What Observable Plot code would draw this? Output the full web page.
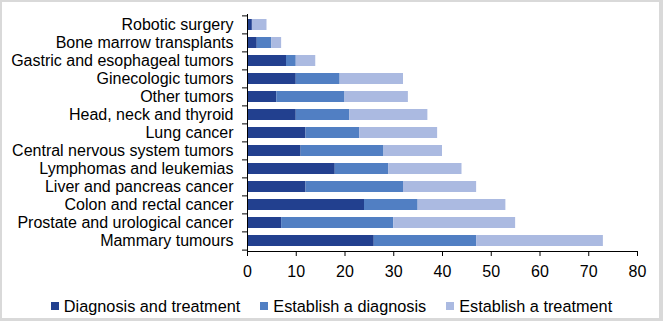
<!DOCTYPE html>
<html><head><meta charset="utf-8">
<script src="https://cdn.jsdelivr.net/npm/d3@7"></script>
<script src="https://cdn.jsdelivr.net/npm/@observablehq/plot@0.6"></script>
<style>
html,body{margin:0;padding:0;background:#fff;}
#frame{position:relative;width:663px;height:321px;background:#d9d9d9;overflow:hidden;font-family:"Liberation Sans",Arial,sans-serif;}
#inner{position:absolute;left:2px;top:2px;width:657px;height:316px;background:#fff;}
#chart{position:absolute;left:0;top:0;}
#legend{position:absolute;left:0;top:297px;width:663px;display:flex;justify-content:center;align-items:center;font-size:16.3px;line-height:18px;color:#000;}
.item{display:flex;align-items:center;margin:0 10px;white-space:nowrap;}
.sw{width:8px;height:8px;margin-right:5px;flex:none;}
</style></head><body>
<div id="frame"><div id="inner"></div><div id="chart"></div><div id="legend"></div></div>
<script>
const categories = [
  "Robotic surgery",
  "Bone marrow transplants",
  "Gastric and esophageal tumors",
  "Ginecologic tumors",
  "Other tumors",
  "Head, neck and thyroid",
  "Lung cancer",
  "Central nervous system tumors",
  "Lymphomas and leukemias",
  "Liver and pancreas cancer",
  "Colon and rectal cancer",
  "Prostate and urological cancer",
  "Mammary tumours"
];
const seriesNames = ["Diagnosis and treatment", "Establish a diagnosis", "Establish a treatment"];
const diagnosisAndTreatment = [1, 2, 8, 10, 6, 10, 12, 11, 18, 12, 24, 7, 26];
const establishDiagnosis    = [0, 3, 2, 9, 14, 11, 11, 17, 11, 20, 11, 23, 21];
const establishTreatment    = [3, 2, 4, 13, 13, 16, 16, 12, 15, 15, 18, 25, 26];
const xTicks = [0, 10, 20, 30, 40, 50, 60, 70, 80];
const colors = ["#22408F", "#517FC3", "#ABBAE1"];

const seriesValues = [diagnosisAndTreatment, establishDiagnosis, establishTreatment];
const data = [];
categories.forEach((c, i) => {
  seriesNames.forEach((s, j) => data.push({category: c, series: s, value: seriesValues[j][i]}));
});

const W = 663, H = 285, mT = 14, mB = 34, mL = 247, mR = 26;
const step = (H - mT - mB) / categories.length;

const chart = Plot.plot({
  width: W, height: H,
  marginTop: mT, marginBottom: mB, marginLeft: mL, marginRight: mR,
  style: {fontFamily: '"Liberation Sans", Arial, sans-serif', color: "#000", background: "transparent"},
  x: {domain: [0, 80], axis: null},
  y: {domain: categories, paddingInner: 0.4, paddingOuter: 0.2, axis: null},
  color: {domain: seriesNames, range: colors},
  marks: [
    Plot.barX(data, {x: "value", y: "category", fill: "series", order: seriesNames}),
    Plot.axisY({tickSize: 0, tickPadding: 14, fontSize: 16, label: null}),
    Plot.axisY({tickSize: 5, tickFormat: () => "", dy: -step / 2, label: null, stroke: "#000"}),
    Plot.axisY({ticks: [categories[categories.length - 1]], tickSize: 5, tickFormat: () => "", dy: step / 2, label: null, stroke: "#000"}),
    Plot.axisX({ticks: xTicks, tickSize: 5, tickPadding: 9, fontSize: 16, label: null, stroke: "#000"}),
    Plot.frame({anchor: "bottom", stroke: "#000"}),
    Plot.frame({anchor: "left", stroke: "#000"})
  ]
});
document.getElementById("chart").appendChild(chart);

const legend = document.getElementById("legend");
seriesNames.forEach((s, j) => {
  const item = document.createElement("div");
  item.className = "item";
  const sw = document.createElement("span");
  sw.className = "sw";
  sw.style.background = colors[j];
  const t = document.createElement("span");
  t.textContent = s;
  item.appendChild(sw); item.appendChild(t);
  legend.appendChild(item);
});
</script>
</body></html>
